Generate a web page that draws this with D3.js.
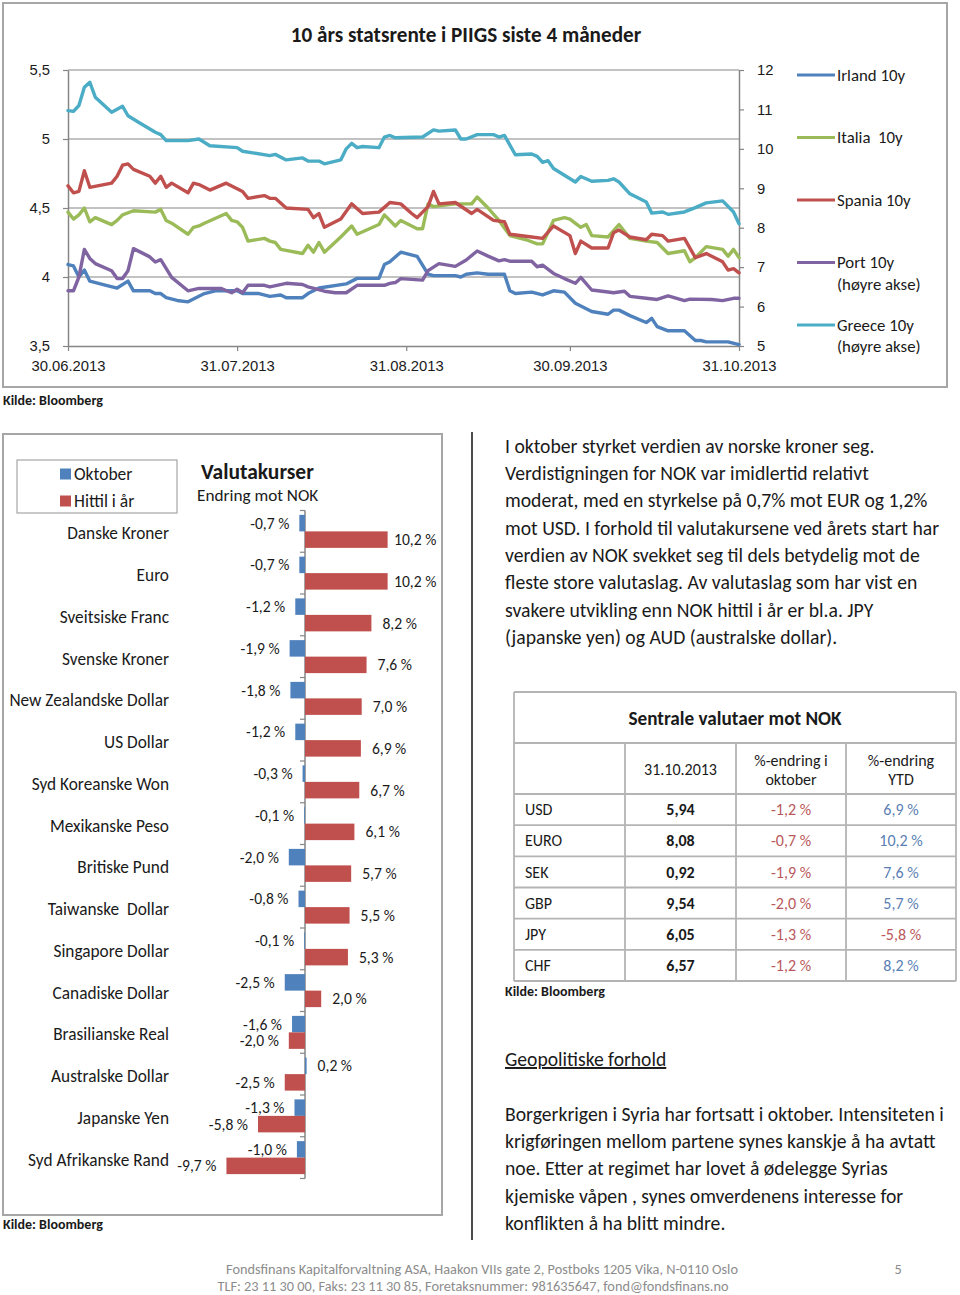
<!DOCTYPE html>
<html>
<head>
<meta charset="utf-8">
<script src="https://cdn.jsdelivr.net/npm/d3@7"></script>
<style>
  body { margin: 0; background: #fff; }
  svg { display: block; font-family: Calibri, Carlito, Lato, sans-serif; }
  .pre { white-space: pre; }
</style>
</head>
<body>
<svg id="page" width="960" height="1295"></svg>
<script>
// ---- Data: 10y yields, [days since 30.06.2013, value] ----
var irland = [[0,4.09],[1,4.08],[2,4.00],[3,4.05],[4,3.97],[7,3.94],[9,3.92],[11,3.97],[12,3.90],[15,3.90],[16,3.88],[17,3.88],[18,3.85],[20,3.83],[22,3.82],[23,3.84],[25,3.88],[27,3.90],[31,3.90],[32,3.88],[35,3.88],[37,3.86],[39,3.87],[40,3.85],[43,3.85],[44,3.88],[46,3.92],[51,3.95],[53,3.99],[57,3.99],[58,4.09],[59,4.11],[61,4.18],[64,4.15],[66,4.02],[67,4.01],[71,4.01],[72,4.00],[73,4.02],[75,4.03],[77,4.02],[80,4.02],[81,3.90],[82,3.88],[85,3.89],[87,3.87],[89,3.90],[91,3.89],[93,3.81],[94,3.79],[96,3.75],[99,3.73],[100,3.76],[101,3.76],[103,3.72],[106,3.67],[107,3.70],[108,3.64],[110,3.61],[113,3.61],[115,3.54],[116,3.54],[117,3.53],[121,3.53],[123,3.51]];
var italia = [[0,4.47],[1,4.42],[2,4.45],[3,4.50],[4,4.40],[5,4.43],[8,4.38],[9,4.41],[10,4.45],[12,4.48],[16,4.47],[17,4.49],[18,4.41],[19,4.39],[22,4.31],[23,4.36],[24,4.37],[25,4.39],[29,4.46],[30,4.41],[31,4.40],[32,4.36],[33,4.26],[36,4.28],[37,4.26],[38,4.25],[39,4.20],[43,4.17],[44,4.23],[45,4.18],[46,4.25],[47,4.18],[50,4.29],[51,4.33],[52,4.37],[53,4.31],[57,4.38],[58,4.45],[60,4.37],[61,4.41],[63,4.37],[64,4.35],[65,4.35],[66,4.53],[67,4.51],[71,4.53],[74,4.53],[75,4.58],[77,4.50],[79,4.41],[81,4.30],[84,4.27],[86,4.24],[87,4.24],[89,4.41],[91,4.43],[92,4.42],[94,4.36],[95,4.38],[96,4.30],[99,4.29],[101,4.38],[103,4.28],[106,4.26],[108,4.25],[110,4.17],[113,4.19],[114,4.11],[115,4.14],[117,4.22],[120,4.20],[121,4.15],[122,4.20],[123,4.14]];
var spania = [[0,4.66],[1,4.61],[2,4.62],[3,4.77],[4,4.65],[8,4.68],[9,4.73],[10,4.81],[11,4.82],[12,4.78],[15,4.73],[16,4.68],[17,4.73],[18,4.65],[19,4.68],[22,4.61],[23,4.68],[24,4.67],[26,4.63],[29,4.68],[30,4.66],[31,4.64],[32,4.62],[33,4.57],[36,4.59],[37,4.57],[38,4.57],[40,4.50],[44,4.49],[45,4.43],[46,4.46],[47,4.36],[50,4.42],[52,4.53],[54,4.46],[57,4.47],[59,4.54],[61,4.53],[63,4.46],[64,4.43],[66,4.51],[67,4.62],[68,4.53],[71,4.54],[74,4.46],[75,4.49],[78,4.41],[80,4.40],[81,4.31],[85,4.29],[87,4.28],[89,4.37],[92,4.30],[93,4.17],[94,4.26],[96,4.21],[99,4.21],[100,4.32],[101,4.34],[103,4.29],[106,4.27],[107,4.31],[109,4.30],[110,4.26],[113,4.28],[115,4.14],[117,4.17],[120,4.11],[121,4.05],[122,4.06],[123,4.03]];
var portugal = [[0,6.40],[1,6.40],[2,6.75],[3,7.45],[4,7.22],[5,7.09],[8,6.91],[9,6.71],[10,6.71],[11,6.91],[12,7.47],[15,7.26],[16,7.13],[17,7.19],[19,6.74],[22,6.40],[24,6.46],[28,6.46],[30,6.35],[31,6.44],[32,6.35],[33,6.54],[36,6.54],[37,6.50],[40,6.59],[43,6.56],[44,6.50],[47,6.39],[49,6.35],[51,6.35],[53,6.54],[58,6.54],[59,6.59],[60,6.61],[61,6.71],[63,6.69],[65,6.67],[66,6.91],[68,7.09],[71,7.02],[73,7.18],[75,7.41],[77,7.28],[79,7.16],[80,7.19],[81,7.15],[85,7.15],[86,7.01],[87,7.05],[89,6.84],[91,6.71],[93,6.59],[94,6.74],[96,6.42],[99,6.37],[100,6.35],[102,6.39],[103,6.26],[106,6.21],[108,6.18],[110,6.27],[113,6.15],[114,6.19],[118,6.18],[120,6.15],[122,6.21],[123,6.21]];
var greece = [[0,10.97],[1,10.95],[2,11.10],[3,11.56],[4,11.69],[5,11.31],[6,11.18],[8,10.93],[10,11.08],[11,10.84],[13,10.67],[16,10.42],[17,10.36],[18,10.21],[22,10.21],[24,10.25],[26,10.08],[31,10.03],[32,9.94],[37,9.83],[38,9.86],[40,9.72],[43,9.77],[44,9.69],[46,9.69],[47,9.62],[50,9.72],[51,10.00],[52,10.14],[53,10.03],[54,10.06],[57,10.03],[58,10.30],[59,10.34],[60,10.28],[65,10.30],[67,10.48],[68,10.45],[71,10.48],[72,10.25],[73,10.25],[75,10.36],[78,10.36],[79,10.30],[80,10.34],[82,9.85],[85,9.87],[86,9.81],[87,9.66],[88,9.70],[89,9.50],[91,9.33],[93,9.16],[94,9.30],[96,9.18],[99,9.20],[100,9.24],[101,9.16],[103,8.86],[106,8.65],[107,8.37],[109,8.40],[110,8.34],[113,8.40],[115,8.51],[117,8.63],[120,8.68],[122,8.40],[123,8.10]];

var leftTicks = [3.5, 4, 4.5, 5, 5.5];
var rightTicks = [5, 6, 7, 8, 9, 10, 11, 12];
var dateTicks = ['30.06.2013', '31.07.2013', '31.08.2013', '30.09.2013', '31.10.2013'];

// ---- Data: currency bars ----
var currencies = ['Danske Kroner', 'Euro', 'Sveitsiske Franc', 'Svenske Kroner', 'New Zealandske Dollar', 'US Dollar',
  'Syd Koreanske Won', 'Mexikanske Peso', 'Britiske Pund', 'Taiwanske  Dollar', 'Singapore Dollar', 'Canadiske Dollar',
  'Brasilianske Real', 'Australske Dollar', 'Japanske Yen', 'Syd Afrikanske Rand'];
var oktober = [-0.7, -0.7, -1.2, -1.9, -1.8, -1.2, -0.3, -0.1, -2.0, -0.8, -0.1, -2.5, -1.6, 0.2, -1.3, -1.0];
var hittil = [10.2, 10.2, 8.2, 7.6, 7.0, 6.9, 6.7, 6.1, 5.7, 5.5, 5.3, 2.0, -2.0, -2.5, -5.8, -9.7];

// ---- Data: table ----
var tableCodes = ['USD', 'EURO', 'SEK', 'GBP', 'JPY', 'CHF'];
var tableRates = ['5,94', '8,08', '0,92', '9,54', '6,05', '6,57'];
var tableOkt = [-1.2, -0.7, -1.9, -2.0, -1.3, -1.2];
var tableYtd = [6.9, 10.2, 7.6, 5.7, -5.8, 8.2];

var para1 = [
  'I oktober styrket verdien av norske kroner seg.',
  'Verdistigningen for NOK var imidlertid relativt',
  'moderat, med en styrkelse på 0,7% mot EUR og 1,2%',
  'mot USD. I forhold til valutakursene ved årets start har',
  'verdien av NOK svekket seg til dels betydelig mot de',
  'fleste store valutaslag. Av valutaslag som har vist en',
  'svakere utvikling enn NOK hittil i år er bl.a. JPY',
  '(japanske yen) og AUD (australske dollar).'
];
var para2 = [
  'Borgerkrigen i Syria har fortsatt i oktober. Intensiteten i',
  'krigføringen mellom partene synes kanskje å ha avtatt',
  'noe. Etter at regimet har lovet å ødelegge Syrias',
  'kjemiske våpen , synes omverdenens interesse for',
  'konflikten å ha blitt mindre.'
];

var BLUE = '#4F81BD', RED = '#C0504D', GREEN = '#9BBB59', PURPLE = '#8064A2', CYAN = '#4BACC6';
var AXIS = '#868686', TXT = '#1a1a1a';

function comma(v) { return String(v).replace('.', ','); }
function pct(v) { return d3.format('.1f')(v).replace('\u2212', '-').replace('.', ',') + ' %'; }

var svg = d3.select('#page');

// ================= Line chart =================
svg.append('rect').attr('x', 3).attr('y', 3).attr('width', 944).attr('height', 384)
  .attr('fill', 'none').attr('stroke', '#a6a6a6').attr('stroke-width', 2);

svg.append('text').attr('x', 466).attr('y', 42).attr('text-anchor', 'middle')
  .attr('font-weight', 'bold').attr('font-size', 21.2).attr('fill', TXT)
  .text('10 års statsrente i PIIGS siste 4 måneder');

var START = new Date(2013, 5, 30);
function day(d) { return d3.timeDay.offset(START, d); }
var parseD = d3.timeParse('%d.%m.%Y');

var x = d3.scaleTime().domain([START, day(123)]).range([68, 739]);
var yL = d3.scaleLinear().domain([3.5, 5.5]).range([346, 70]);
var yR = d3.scaleLinear().domain([5, 12]).range([346, 70]);

var chart = svg.append('g');

// gridlines
chart.append('g').selectAll('line').data(leftTicks.slice(1)).join('line')
  .attr('x1', 68).attr('x2', 739).attr('y1', yL).attr('y2', yL)
  .attr('stroke', AXIS).attr('stroke-width', 1.2);

function styleAxis(g) {
  g.select('.domain').attr('stroke', AXIS).attr('stroke-width', 1.5);
  g.selectAll('.tick line').attr('stroke', AXIS).attr('stroke-width', 1.2);
  g.selectAll('.tick text').attr('fill', TXT).attr('font-size', 14.8);
}

chart.append('g').attr('transform', 'translate(68,0)')
  .call(d3.axisLeft(yL).tickValues(leftTicks).tickFormat(comma).tickSize(5).tickSizeOuter(0).tickPadding(13))
  .call(styleAxis);

chart.append('g').attr('transform', 'translate(739,0)')
  .call(d3.axisRight(yR).tickValues(rightTicks).tickFormat(d3.format('d')).tickSize(5).tickSizeOuter(0).tickPadding(13))
  .call(styleAxis);

chart.append('g').attr('transform', 'translate(0,346)')
  .call(d3.axisBottom(x).tickValues(dateTicks.map(parseD)).tickFormat(d3.timeFormat('%d.%m.%Y'))
    .tickSize(5).tickSizeOuter(0).tickPadding(9))
  .call(styleAxis);

var series = [
  { name: ['Irland 10y'], color: BLUE, y: yL, values: irland },
  { name: ['Italia  10y'], color: GREEN, y: yL, values: italia },
  { name: ['Spania 10y'], color: RED, y: yL, values: spania },
  { name: ['Port 10y', '(høyre akse)'], color: PURPLE, y: yR, values: portugal },
  { name: ['Greece 10y', '(høyre akse)'], color: CYAN, y: yR, values: greece }
];

series.forEach(function (s) {
  var line = d3.line()
    .x(function (d) { return x(day(d[0])); })
    .y(function (d) { return s.y(d[1]); });
  chart.append('path').datum(s.values).attr('d', line)
    .attr('fill', 'none').attr('stroke', s.color).attr('stroke-width', 3.4)
    .attr('stroke-linejoin', 'round').attr('stroke-linecap', 'round');
});

// legend
var leg = chart.append('g').selectAll('g').data(series).join('g')
  .attr('transform', function (d, i) { return 'translate(797,' + (75 + i * 62.5) + ')'; });
leg.append('line').attr('x1', 0).attr('x2', 38).attr('stroke', function (d) { return d.color; }).attr('stroke-width', 3);
leg.append('text').attr('class', 'pre').attr('x', 40).attr('font-size', 16.8).attr('fill', TXT)
  .selectAll('tspan').data(function (d) { return d.name; }).join('tspan')
  .attr('x', 40).attr('dy', function (d, i) { return i === 0 ? '0.35em' : '1.28em'; })
  .text(function (d) { return d; });

svg.append('text').attr('x', 3).attr('y', 405).attr('font-weight', 'bold').attr('font-size', 14)
  .attr('fill', TXT).text('Kilde: Bloomberg');

// ================= Bar chart =================
svg.append('rect').attr('x', 3).attr('y', 434).attr('width', 439).attr('height', 781)
  .attr('fill', 'none').attr('stroke', '#a6a6a6').attr('stroke-width', 2);

svg.append('line').attr('x1', 472).attr('x2', 472).attr('y1', 432).attr('y2', 1240)
  .attr('stroke', '#111').attr('stroke-width', 1.5);

svg.append('text').attr('x', 201).attr('y', 479).attr('font-weight', 'bold').attr('font-size', 21.5)
  .attr('fill', TXT).text('Valutakurser');
svg.append('text').attr('x', 197).attr('y', 501).attr('font-size', 17.2)
  .attr('fill', TXT).text('Endring mot NOK');

// legend box
svg.append('rect').attr('x', 17).attr('y', 460).attr('width', 160).attr('height', 53)
  .attr('fill', 'none').attr('stroke', '#a6a6a6').attr('stroke-width', 1.2);
var barKeys = [{ label: 'Oktober', color: BLUE }, { label: 'Hittil i år', color: RED }];
var bl = svg.append('g').selectAll('g').data(barKeys).join('g')
  .attr('transform', function (d, i) { return 'translate(60,' + (474 + i * 27) + ')'; });
bl.append('rect').attr('x', 0).attr('y', -5.5).attr('width', 11).attr('height', 11).attr('fill', function (d) { return d.color; });
bl.append('text').attr('x', 14).attr('dy', '0.35em').attr('font-size', 17.5).attr('fill', TXT).text(function (d) { return d.label; });

var bx = d3.scaleLinear().domain([-10, 10]).range([224, 386]);
var by = d3.scaleBand().domain(currencies).range([510.5, 1178.5]).paddingInner(0.21).paddingOuter(0.105);
var sub = d3.scaleBand().domain(['okt', 'ytd']).range([0, by.bandwidth()]);

var rows = currencies.map(function (c, i) {
  return { name: c, okt: oktober[i], ytd: hittil[i] };
});

var bars = svg.append('g');
// category boundary ticks + axis
var x0 = bx(0);
bars.append('line').attr('x1', x0).attr('x2', x0).attr('y1', 510.5).attr('y2', 1178.5)
  .attr('stroke', AXIS).attr('stroke-width', 1.5);
bars.append('g').selectAll('line').data(d3.range(currencies.length + 1)).join('line')
  .attr('x1', x0 - 5).attr('x2', x0)
  .attr('y1', function (i) { return 510.5 + i * by.step(); })
  .attr('y2', function (i) { return 510.5 + i * by.step(); })
  .attr('stroke', AXIS).attr('stroke-width', 1.2);

bars.append('g').selectAll('text').data(rows).join('text')
  .attr('class', 'pre')
  .attr('x', 169).attr('y', function (d) { return by(d.name) + by.bandwidth() / 2 + 2; })
  .attr('dy', '0.35em').attr('text-anchor', 'end').attr('font-size', 17.3).attr('fill', TXT)
  .text(function (d) { return d.name; });

var keys = [{ key: 'okt', color: BLUE }, { key: 'ytd', color: RED }];
keys.forEach(function (k) {
  var g = bars.append('g');
  g.selectAll('rect').data(rows).join('rect')
    .attr('x', function (d) { return Math.min(bx(0), bx(d[k.key])); })
    .attr('width', function (d) { return Math.abs(bx(d[k.key]) - bx(0)); })
    .attr('y', function (d) { return by(d.name) + sub(k.key); })
    .attr('height', sub.bandwidth())
    .attr('fill', k.color);
  g.selectAll('text').data(rows).join('text')
    .attr('x', function (d) {
      var v = d[k.key];
      return v < 0 ? bx(v) - 10 : Math.min(bx(v) + 11, 394);
    })
    .attr('y', function (d) { return by(d.name) + sub(k.key) + sub.bandwidth() / 2; })
    .attr('dy', '0.35em')
    .attr('text-anchor', function (d) { return d[k.key] < 0 ? 'end' : 'start'; })
    .attr('font-size', 15.6).attr('fill', TXT)
    .text(function (d) { return pct(d[k.key]); });
});

svg.append('text').attr('x', 3).attr('y', 1229).attr('font-weight', 'bold').attr('font-size', 14)
  .attr('fill', TXT).text('Kilde: Bloomberg');

// ================= Right column text =================
function paragraph(lines, top) {
  svg.append('g').selectAll('text').data(lines).join('text')
    .attr('x', 505).attr('y', function (d, i) { return top + i * 27.3; })
    .attr('dy', '0.35em').attr('font-size', 19.7).attr('fill', TXT)
    .text(function (d) { return d; });
}
paragraph(para1, 446);
paragraph(para2, 1114);

svg.append('text').attr('x', 505).attr('y', 1066).attr('font-size', 19.6).attr('fill', TXT)
  .attr('text-decoration', 'underline').text('Geopolitiske forhold');

// ================= Table =================
var colX = [514, 625, 736, 846, 956];
var tbl = svg.append('g');
var tRows = d3.scaleBand().domain(tableCodes).range([794, 981]);
var gridCol = '#b4b4b4';

// horizontal lines
[692, 743, 794].concat(tableCodes.map(function (c) { return tRows(c) + tRows.bandwidth(); })).forEach(function (yy) {
  tbl.append('line').attr('x1', colX[0]).attr('x2', colX[4]).attr('y1', yy).attr('y2', yy)
    .attr('stroke', gridCol).attr('stroke-width', 1.8);
});
colX.forEach(function (xx, i) {
  tbl.append('line').attr('x1', xx).attr('x2', xx).attr('y1', (i === 0 || i === 4) ? 692 : 743).attr('y2', 981)
    .attr('stroke', gridCol).attr('stroke-width', 1.8);
});

tbl.append('text').attr('x', 735).attr('y', 718).attr('dy', '0.35em').attr('text-anchor', 'middle')
  .attr('font-weight', 'bold').attr('font-size', 19.2).attr('fill', TXT).text('Sentrale valutaer mot NOK');

var headers = [['31.10.2013'], ['%-endring i', 'oktober'], ['%-endring', 'YTD']];
headers.forEach(function (h, i) {
  var cx = (colX[i + 1] + colX[i + 2]) / 2;
  var t = tbl.append('text').attr('text-anchor', 'middle').attr('font-size', 16).attr('fill', TXT);
  h.forEach(function (line, j) {
    t.append('tspan').attr('x', cx)
      .attr('y', h.length === 1 ? 769 : 760 + j * 19.5)
      .attr('dy', '0.35em').text(line);
  });
});

var tData = tableCodes.map(function (c, i) {
  return { code: c, rate: tableRates[i], okt: tableOkt[i], ytd: tableYtd[i] };
});
var tr = tbl.append('g').selectAll('g').data(tData).join('g')
  .attr('transform', function (d) { return 'translate(0,' + (tRows(d.code) + tRows.bandwidth() / 2) + ')'; });
tr.append('text').attr('x', 525).attr('dy', '0.35em').attr('font-size', 16).attr('fill', TXT)
  .text(function (d) { return d.code; });
tr.append('text').attr('x', (colX[1] + colX[2]) / 2).attr('dy', '0.35em').attr('text-anchor', 'middle')
  .attr('font-size', 16).attr('font-weight', 'bold').attr('fill', TXT).text(function (d) { return d.rate; });
tr.append('text').attr('x', (colX[2] + colX[3]) / 2).attr('dy', '0.35em').attr('text-anchor', 'middle')
  .attr('font-size', 16).attr('fill', function (d) { return d.okt < 0 ? '#b9585a' : '#5a7fb3'; })
  .text(function (d) { return pct(d.okt); });
tr.append('text').attr('x', (colX[3] + colX[4]) / 2).attr('dy', '0.35em').attr('text-anchor', 'middle')
  .attr('font-size', 16).attr('fill', function (d) { return d.ytd < 0 ? '#b9585a' : '#5a7fb3'; })
  .text(function (d) { return pct(d.ytd); });

svg.append('text').attr('x', 505).attr('y', 996).attr('font-weight', 'bold').attr('font-size', 14)
  .attr('fill', TXT).text('Kilde: Bloomberg');

// ================= Footer =================
svg.append('text').attr('x', 482).attr('y', 1274).attr('text-anchor', 'middle').attr('font-size', 14.3)
  .attr('fill', '#8c8c8c').text('Fondsfinans Kapitalforvaltning ASA, Haakon VIIs gate 2, Postboks 1205 Vika, N-0110 Oslo');
svg.append('text').attr('x', 473).attr('y', 1291).attr('text-anchor', 'middle').attr('font-size', 14.3)
  .attr('fill', '#8c8c8c').text('TLF: 23 11 30 00, Faks: 23 11 30 85, Foretaksnummer: 981635647, fond@fondsfinans.no');
svg.append('text').attr('x', 898).attr('y', 1274).attr('text-anchor', 'middle').attr('font-size', 14.3)
  .attr('fill', '#8c8c8c').text('5');
</script>
</body>
</html>
